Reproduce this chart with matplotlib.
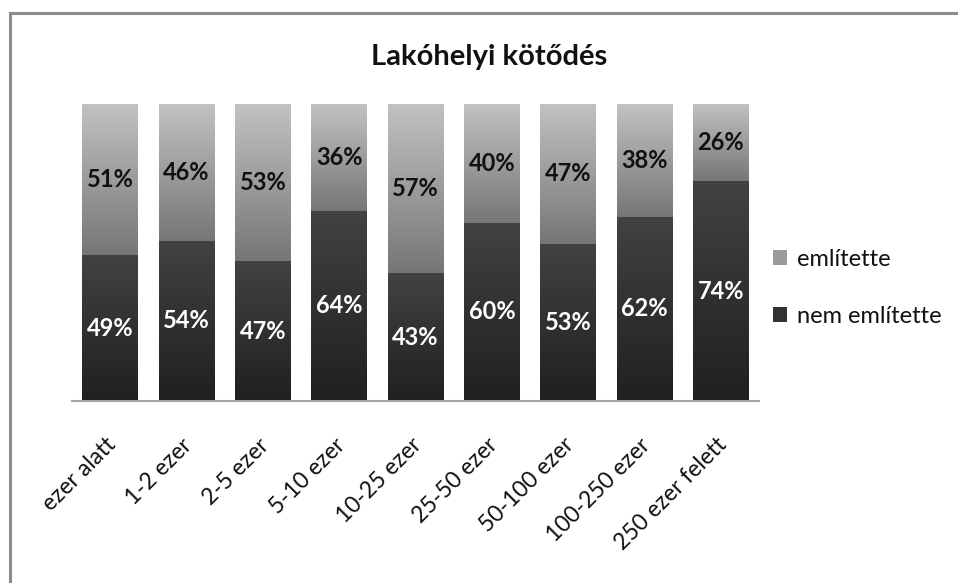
import numpy as np
import matplotlib
matplotlib.use("Agg")
import matplotlib.pyplot as plt
import matplotlib.transforms as mtransforms
from matplotlib.colors import LinearSegmentedColormap
from matplotlib.patches import Patch
from matplotlib.lines import Line2D

categories = ["ezer alatt", "1-2 ezer", "2-5 ezer", "5-10 ezer", "10-25 ezer",
              "25-50 ezer", "50-100 ezer", "100-250 ezer", "250 ezer felett"]
nem_emlitette = [49, 54, 47, 64, 43, 60, 53, 62, 74]
emlitette = [51, 46, 53, 36, 57, 40, 47, 38, 26]
title = "Lakóhelyi kötődés"
series_names = ["említette", "nem említette"]

plt.rcParams['font.family'] = ['Lato', 'DejaVu Sans']

W, H = 958, 583
fig = plt.figure(figsize=(W / 100, H / 100), dpi=100)
ax = fig.add_axes([72 / W, 1 - 401 / H, (759 - 72) / W, (401 - 104) / H])

x = np.arange(len(categories))
width = 0.73
nem = np.array(nem_emlitette) / 100
eml = np.array(emlitette) / 100

cm_low = LinearSegmentedColormap.from_list("low", ["#202020", "#424242"])
cm_up = LinearSegmentedColormap.from_list("up", ["#767676", "#c2c2c2"])
grad = np.linspace(0, 1, 256).reshape(-1, 1)

bars_low = ax.bar(x, nem, width, color="#333333", linewidth=0)
bars_up = ax.bar(x, eml, width, bottom=nem, color="#9a9a9a", linewidth=0)

for bars, cmap in ((bars_low, cm_low), (bars_up, cm_up)):
    for b in bars:
        x0, y0 = b.get_x(), b.get_y()
        w, h = b.get_width(), b.get_height()
        b.set_facecolor("none")
        im = ax.imshow(grad, cmap=cmap, origin="lower", aspect="auto",
                       extent=[x0, x0 + w, y0, y0 + h], zorder=2, interpolation="bilinear")
        im.set_clip_path(b)

for i in range(len(categories)):
    ax.text(x[i], nem[i] / 2, f"{nem_emlitette[i]}%", ha="center", va="center",
            color="white", fontsize=17, fontweight="bold", zorder=5)
    ax.text(x[i], nem[i] + eml[i] / 2, f"{emlitette[i]}%", ha="center", va="center",
            color="#111111", fontsize=17, fontweight="bold", zorder=5)

ax.set_xlim(-0.5, len(categories) - 0.5)
ax.set_ylim(0, 1)
ax.set_yticks([])
for s in ("top", "right", "left"):
    ax.spines[s].set_visible(False)
ax.spines["bottom"].set_color("#a6a6a6")
ax.spines["bottom"].set_linewidth(1.5)
ax.set_xticks(x)
ax.set_xticklabels(categories, rotation=45, ha="right", rotation_mode="anchor",
                   fontsize=16.5, color="#111111")
ax.tick_params(axis="x", length=0, pad=24)
offset = mtransforms.ScaledTranslation(-5 / 100, 0, fig.dpi_scale_trans)
for lbl in ax.get_xticklabels():
    lbl.set_transform(lbl.get_transform() + offset)

fig.text(489 / W, 1 - 57 / H, title, ha="center", va="center", fontsize=21,
         fontweight="bold", color="#111111")

handles = [Patch(facecolor="#9a9a9a", edgecolor="none"),
           Patch(facecolor="#333333", edgecolor="none")]
fig.legend(handles, series_names, loc="center left", bbox_to_anchor=(752 / W, 1 - 288 / H),
           frameon=False, fontsize=17, handlelength=0.6, handleheight=0.6,
           handletextpad=0.4, labelspacing=1.5, labelcolor="#111111")

# outer chart border
fig.add_artist(Line2D([10 / W, 10 / W], [0, 1 - 13 / H], transform=fig.transFigure,
                      color="#8c8c8c", linewidth=2.2))
fig.add_artist(Line2D([10 / W, 1], [1 - 13 / H, 1 - 13 / H], transform=fig.transFigure,
                      color="#8c8c8c", linewidth=2.2))

fig.savefig("out.png", dpi=100)
